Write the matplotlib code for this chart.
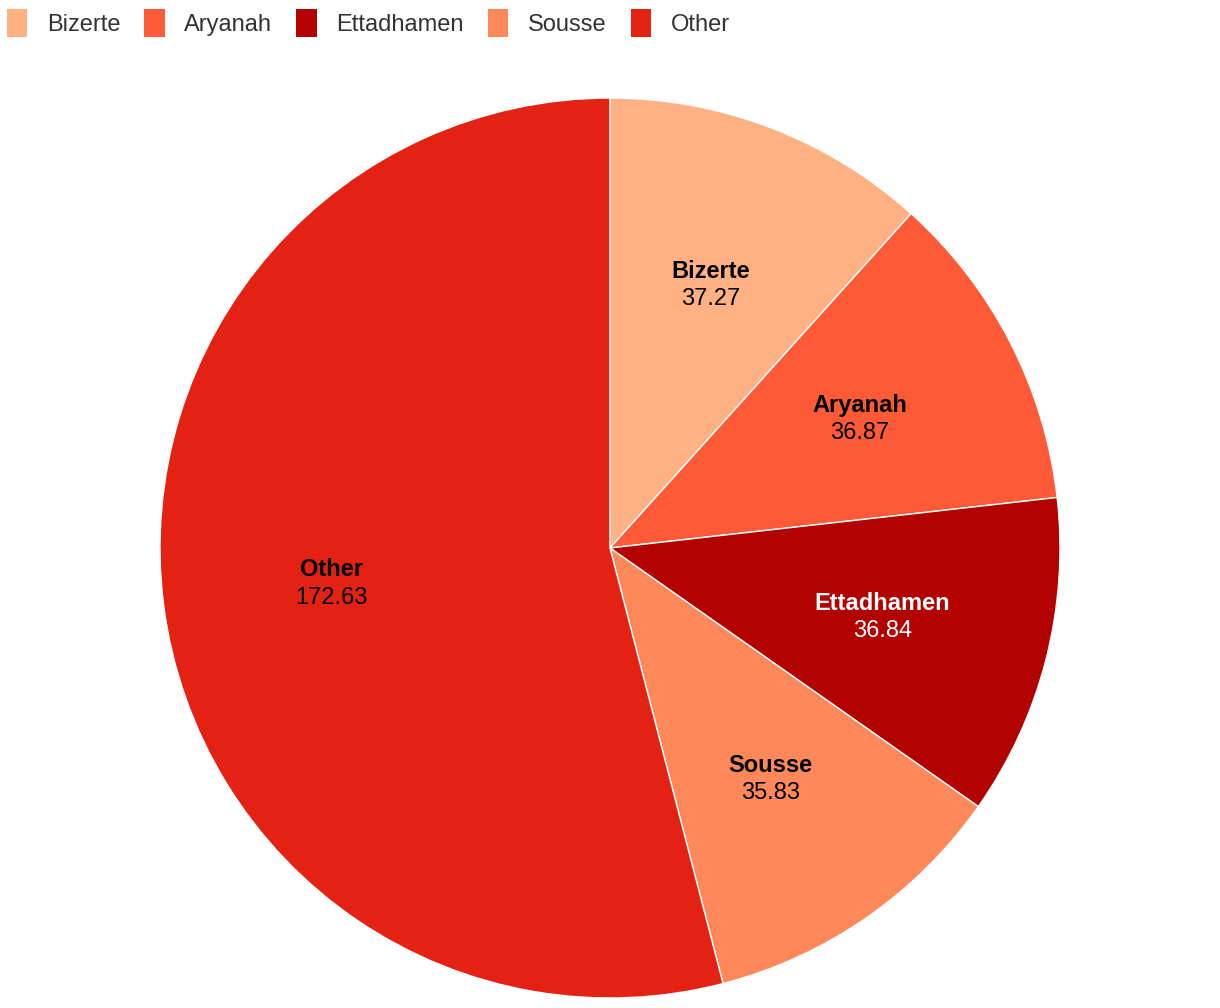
import numpy as np
import matplotlib.pyplot as plt
from matplotlib.patches import Patch

plt.rcParams['font.family'] = ['Liberation Sans', 'DejaVu Sans']

regions = ['Bizerte', 'Aryanah', 'Ettadhamen', 'Sousse', 'Other']
values = [37.27, 36.87, 36.84, 35.83, 172.63]
colors = ['#ffb183', '#ff5a37', '#b30000', '#ff885b', '#e32214']
text_colors = ['black', 'black', 'white', 'black', 'black']

fig = plt.figure(figsize=(12.2, 10.08), dpi=100)
ax = fig.add_axes([160 / 1220, 10 / 1008, 900 / 1220, 900 / 1008])

wedges, _ = ax.pie(values, colors=colors, startangle=90, counterclock=False,
                   radius=1, wedgeprops=dict(edgecolor='white', linewidth=1))
ax.set_xlim(-1, 1)
ax.set_ylim(-1, 1)
ax.set_aspect('equal')
ax.axis('off')

# labels at ~0.625 of the radius, name bold on top, value below
for w, name, val, tc in zip(wedges, regions, values, text_colors):
    mid = np.deg2rad((w.theta1 + w.theta2) / 2)
    x, y = 0.625 * np.cos(mid), 0.625 * np.sin(mid)
    ax.text(x, y + 0.031, name, ha='center', va='center', fontsize=17,
            fontweight='bold', color=tc)
    ax.text(x, y - 0.031, f'{val:.2f}', ha='center', va='center', fontsize=17,
            color=tc)

handles = [Patch(facecolor=c, edgecolor='none') for c in colors]
leg = fig.legend(handles, regions, loc='upper left', bbox_to_anchor=(7 / 1220, 1 - 9 / 1008),
                 ncol=5, frameon=False, fontsize=17, borderpad=0, borderaxespad=0,
                 handlelength=0.85, handleheight=1.45, handletextpad=0.84,
                 columnspacing=1.02)
for t in leg.get_texts():
    t.set_color('#333333')

fig.savefig('out.png', dpi=100)
